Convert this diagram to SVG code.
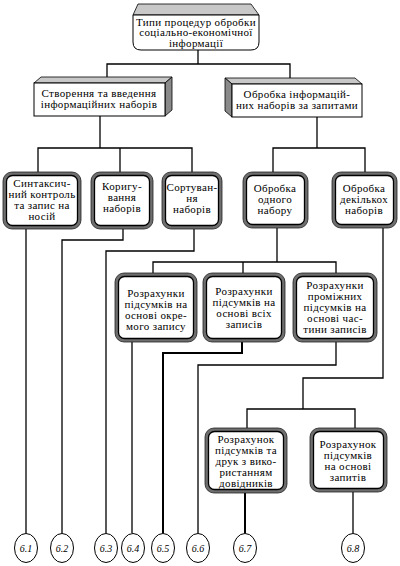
<svg xmlns="http://www.w3.org/2000/svg" width="400" height="566" viewBox="0 0 400 566">
<style>
.t{font-family:"Liberation Serif",serif;font-size:11px;letter-spacing:.35px;text-anchor:middle;fill:#000}
.c{font-family:"Liberation Serif",serif;font-size:10px;font-style:italic;text-anchor:middle;fill:#000}
.o{fill:#6e6e6e;stroke:#222;stroke-width:.8}
.w{fill:#fff;stroke:#000;stroke-width:1.3}
.l{fill:none;stroke:#000;stroke-width:1.3}
.b{fill:none;stroke:#000;stroke-width:2}
.e{fill:#fff;stroke:#000;stroke-width:1}
.dk{fill:#8a8a8a;stroke:#000;stroke-width:.8}
.lt{fill:#c8c8c8;stroke:#000;stroke-width:.8}
.f{fill:#fff;stroke:#000;stroke-width:1}
</style>
<rect width="400" height="566" fill="#fff"/>
<g id="connectors">
<polyline class="l" points="198,50 198,64"/>
<polyline class="l" points="107,77 107,64 290,64 290,78"/>
<polyline class="l" points="100,116 100,148"/>
<polyline class="l" points="38,172 38,148 192,148 192,172"/>
<polyline class="l" points="120,148 120,172"/>
<polyline class="l" points="317,117 317,148"/>
<polyline class="l" points="273,172 273,148 365,148 365,172"/>
<polyline class="l" points="26,228 26,533"/>
<polyline class="l" points="123,228 123,240 62,240 62,533"/>
<polyline class="l" points="194,228 194,251 106,251 106,533"/>
<polyline class="l" points="277,227 277,262"/>
<polyline class="l" points="153,273 153,262 336,262 336,273"/>
<polyline class="l" points="243,262 243,273"/>
<polyline class="l" points="132,342 132,533"/>
<polyline class="b" points="242,342 242,353 163,353 163,533"/>
<polyline class="l" points="336,342 336,365 198,365 198,533"/>
<polyline class="l" points="383,227 383,378 303,378 303,409"/>
<polyline class="l" points="247,428 247,409 355,409 355,428"/>
<polyline class="b" points="245,493 245,533"/>
<polyline class="l" points="353,492 353,533"/>
</g>
<g id="n0">
<polygon class="lt" points="138,4 251,4 259,15 133,15"/>
<path class="f" d="M133,15 H259 V42 Q259,50 251,50 H141 Q133,50 133,42 Z"/>
<text class="t" x="196" y="25.5">Типи процедур обробки</text>
<text class="t" x="196" y="36">соціально-економічної</text>
<text class="t" x="196" y="46.5">інформації</text>
</g>
<g id="n1">
<polygon class="lt" points="34,83 41,77 172,77 165,83"/>
<polygon class="dk" points="165,83 172,77 172,110 165,116"/>
<rect class="f" x="34" y="83" width="131" height="33"/>
<text class="t" x="99" y="97">Створення та введення</text>
<text class="t" x="99" y="108">інформаційних наборів</text>
</g>
<g id="n2">
<polygon class="lt" points="225,78 355,78 362,84 232,84"/>
<polygon class="dk" points="225,78 232,84 232,117 225,111"/>
<rect class="f" x="232" y="84" width="130" height="33"/>
<text class="t" x="297" y="97.5">Обробка інформацій-</text>
<text class="t" x="297" y="108.5">них наборів за запитами</text>
</g>
<g id="n3">
<rect class="o" x="3" y="172" width="78" height="57" rx="9"/>
<rect class="w" x="6.5" y="175.5" width="71" height="50" rx="6"/>
<text class="t" x="42" y="187">Синтаксич-</text>
<text class="t" x="42" y="198">ний контроль</text>
<text class="t" x="42" y="209">та запис на</text>
<text class="t" x="42" y="220">носій</text>
</g>
<g id="n4">
<rect class="o" x="91" y="172" width="62" height="57" rx="9"/>
<rect class="w" x="94.5" y="175.5" width="55" height="50" rx="6"/>
<text class="t" x="122" y="190">Коригу-</text>
<text class="t" x="122" y="201">вання</text>
<text class="t" x="122" y="212">наборів</text>
</g>
<g id="n5">
<rect class="o" x="162" y="172" width="60" height="57" rx="9"/>
<rect class="w" x="165.5" y="175.5" width="53" height="50" rx="6"/>
<text class="t" x="192" y="191">Сортуван-</text>
<text class="t" x="192" y="202">ня</text>
<text class="t" x="192" y="213">наборів</text>
</g>
<g id="n6">
<rect class="o" x="243" y="172" width="65" height="56" rx="9"/>
<rect class="w" x="246.5" y="175.5" width="58" height="49" rx="6"/>
<text class="t" x="275" y="192">Обробка</text>
<text class="t" x="275" y="203">одного</text>
<text class="t" x="275" y="214">набору</text>
</g>
<g id="n7">
<rect class="o" x="332" y="172" width="65" height="56" rx="9"/>
<rect class="w" x="335.5" y="175.5" width="58" height="49" rx="6"/>
<text class="t" x="364" y="192">Обробка</text>
<text class="t" x="364" y="203">декількох</text>
<text class="t" x="364" y="214">наборів</text>
</g>
<g id="n8">
<rect class="o" x="115" y="273" width="82" height="69" rx="9"/>
<rect class="w" x="118.5" y="276.5" width="75" height="62" rx="6"/>
<text class="t" x="156" y="297">Розрахунки</text>
<text class="t" x="156" y="308">підсумків на</text>
<text class="t" x="156" y="319">основі окре-</text>
<text class="t" x="156" y="330">мого запису</text>
</g>
<g id="n9">
<rect class="o" x="203" y="273" width="82" height="69" rx="9"/>
<rect class="w" x="206.5" y="276.5" width="75" height="62" rx="6"/>
<text class="t" x="244" y="295">Розрахунки</text>
<text class="t" x="244" y="306">підсумків на</text>
<text class="t" x="244" y="317">основі всіх</text>
<text class="t" x="244" y="328">записів</text>
</g>
<g id="n10">
<rect class="o" x="293" y="273" width="84" height="69" rx="9"/>
<rect class="w" x="296.5" y="276.5" width="77" height="62" rx="6"/>
<text class="t" x="335" y="289">Розрахунки</text>
<text class="t" x="335" y="300">проміжних</text>
<text class="t" x="335" y="311">підсумків на</text>
<text class="t" x="335" y="322">основі час-</text>
<text class="t" x="335" y="333">тини записів</text>
</g>
<g id="n11">
<rect class="o" x="205" y="428" width="82" height="65" rx="9"/>
<rect class="w" x="208.5" y="431.5" width="75" height="58" rx="6"/>
<text class="t" x="246" y="443">Розрахунок</text>
<text class="t" x="246" y="454">підсумків та</text>
<text class="t" x="246" y="465">друк з вико-</text>
<text class="t" x="246" y="476">ристанням</text>
<text class="t" x="246" y="487">довідників</text>
</g>
<g id="n12">
<rect class="o" x="310" y="428" width="77" height="64" rx="9"/>
<rect class="w" x="313.5" y="431.5" width="70" height="57" rx="6"/>
<text class="t" x="348" y="448">Розрахунок</text>
<text class="t" x="348" y="459">підсумків</text>
<text class="t" x="348" y="470">на основі</text>
<text class="t" x="348" y="481">запитів</text>
</g>
<g id="c61"><ellipse class="e" cx="26" cy="548" rx="11.5" ry="14.5"/><text class="c" x="26" y="551.5">6.1</text></g>
<g id="c62"><ellipse class="e" cx="62" cy="548" rx="11.5" ry="14.5"/><text class="c" x="62" y="551.5">6.2</text></g>
<g id="c63"><ellipse class="e" cx="106" cy="548" rx="11.5" ry="14.5"/><text class="c" x="106" y="551.5">6.3</text></g>
<g id="c64"><ellipse class="e" cx="133" cy="548" rx="11.5" ry="14.5"/><text class="c" x="133" y="551.5">6.4</text></g>
<g id="c65"><ellipse class="e" cx="163" cy="548" rx="11.5" ry="14.5"/><text class="c" x="163" y="551.5">6.5</text></g>
<g id="c66"><ellipse class="e" cx="198" cy="548" rx="11.5" ry="14.5"/><text class="c" x="198" y="551.5">6.6</text></g>
<g id="c67"><ellipse class="e" cx="245" cy="548" rx="11.5" ry="14.5"/><text class="c" x="245" y="551.5">6.7</text></g>
<g id="c68"><ellipse class="e" cx="353" cy="548" rx="11.5" ry="14.5"/><text class="c" x="353" y="551.5">6.8</text></g>
</svg>
